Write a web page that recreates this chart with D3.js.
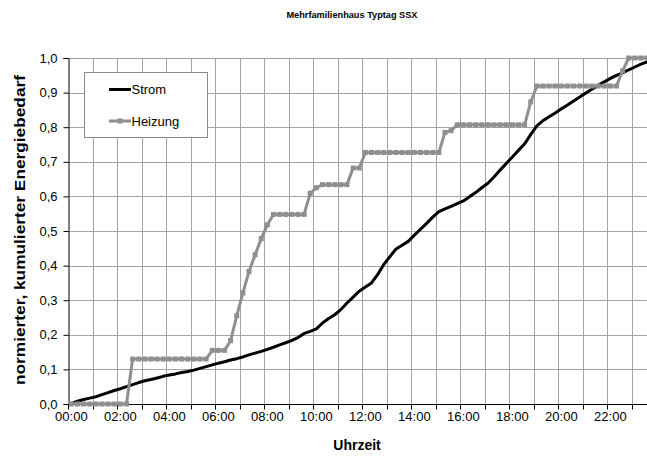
<!DOCTYPE html>
<html>
<head>
<meta charset="utf-8">
<script src="https://cdn.jsdelivr.net/npm/d3@7"></script>
<style>
  html, body { margin: 0; padding: 0; background: #fff; }
  svg { display: block; font-family: "Liberation Sans", Arial, sans-serif; }
</style>
</head>
<body>
<svg id="chart" width="647" height="457"></svg>
<script>
// Quarter-hour categories over one day
const categories = d3.range(96).map(i => {
  const h = Math.floor(i / 4), m = (i % 4) * 15;
  return String(h).padStart(2, "0") + ":" + String(m).padStart(2, "0");
});

// Normalised cumulative electricity demand
const strom = [
  0.002, 0.008, 0.013, 0.017, 0.021, 0.027, 0.033, 0.039,
  0.044, 0.050, 0.056, 0.062, 0.067, 0.071, 0.075, 0.080,
  0.084, 0.087, 0.091, 0.094, 0.098, 0.103, 0.108, 0.113,
  0.118, 0.122, 0.127, 0.131, 0.136, 0.142, 0.147, 0.152,
  0.158, 0.164, 0.171, 0.177, 0.184, 0.192, 0.204, 0.210,
  0.217, 0.234, 0.247, 0.258, 0.273, 0.292, 0.309, 0.326,
  0.338, 0.350, 0.374, 0.403, 0.426, 0.448, 0.459, 0.470,
  0.488, 0.505, 0.522, 0.540, 0.556, 0.564, 0.571, 0.579,
  0.587, 0.599, 0.611, 0.625, 0.638, 0.656, 0.676, 0.695,
  0.714, 0.733, 0.752, 0.779, 0.804, 0.819, 0.830, 0.841,
  0.853, 0.864, 0.876, 0.887, 0.899, 0.910, 0.921, 0.931,
  0.941, 0.950, 0.957, 0.966, 0.974, 0.982, 0.989, 0.995
];

// Normalised cumulative heating demand
const heizung = [
  0, 0, 0, 0, 0, 0, 0, 0, 0, 0,
  0.130, 0.130, 0.130, 0.130, 0.130, 0.130, 0.130, 0.130, 0.130, 0.130, 0.130, 0.130, 0.130,
  0.155, 0.155, 0.155,
  0.183, 0.255, 0.321, 0.383, 0.431, 0.478, 0.518,
  0.548, 0.548, 0.548, 0.548, 0.548, 0.548,
  0.609, 0.625,
  0.634, 0.634, 0.634, 0.634, 0.634,
  0.682, 0.682,
  0.727, 0.727, 0.727, 0.727, 0.727, 0.727, 0.727, 0.727, 0.727, 0.727, 0.727, 0.727, 0.727,
  0.785, 0.790,
  0.807, 0.807, 0.807, 0.807, 0.807, 0.807, 0.807, 0.807, 0.807, 0.807, 0.807, 0.807,
  0.873,
  0.919, 0.919, 0.919, 0.919, 0.919, 0.919, 0.919, 0.919, 0.919, 0.919, 0.919, 0.919, 0.919, 0.919,
  0.963,
  1.0, 1.0, 1.0, 1.0, 1.0
];

const xTickLabels = ["00:00", "02:00", "04:00", "06:00", "08:00", "10:00",
                     "12:00", "14:00", "16:00", "18:00", "20:00", "22:00"];
const yTicks = [0, 0.1, 0.2, 0.3, 0.4, 0.5, 0.6, 0.7, 0.8, 0.9, 1.0];
const seriesNames = ["Strom", "Heizung"];

const svg = d3.select("#chart");
const plotLeft = 68.3, plotRight = 656.3, plotTop = 58, plotBottom = 404;
const gridColor = "#a3a3a3";
const heizColor = "#8f8f8f";

const x = d3.scaleBand().domain(categories).range([plotLeft, plotRight]);
const cx = c => x(c) + x.bandwidth() / 2;
const y = d3.scaleLinear().domain([0, 1]).range([plotBottom, plotTop]);
const fmt = v => d3.format(".1f")(v).replace(".", ",");

// Title
svg.append("text")
  .attr("x", 352).attr("y", 18)
  .attr("text-anchor", "middle")
  .attr("font-size", 9.2).attr("font-weight", "bold")
  .text("Mehrfamilienhaus Typtag SSX");

// Gridlines
const hourStarts = d3.range(1, 24).map(h => categories[h * 4]);
svg.append("g").selectAll("line").data(hourStarts).join("line")
  .attr("x1", d => Math.round(x(d)) + 0.5).attr("x2", d => Math.round(x(d)) + 0.5)
  .attr("y1", plotTop).attr("y2", plotBottom)
  .attr("stroke", gridColor).attr("stroke-width", 1);
svg.append("g").selectAll("line").data(yTicks.filter(v => v > 0)).join("line")
  .attr("x1", plotLeft).attr("x2", 647)
  .attr("y1", d => Math.round(y(d)) + 0.5).attr("y2", d => Math.round(y(d)) + 0.5)
  .attr("stroke", gridColor).attr("stroke-width", 1);

// Y axis
const yAxis = d3.axisLeft(y).tickValues(yTicks).tickFormat(fmt).tickSize(5).tickPadding(6);
const gy = svg.append("g").attr("transform", `translate(${Math.round(plotLeft) + 0.5},0)`).call(yAxis);
gy.select(".domain").attr("stroke", "#000");
gy.selectAll(".tick line").attr("stroke", "#000");
gy.selectAll(".tick text")
  .attr("font-size", 13).attr("fill", "#000")
  .attr("font-family", "Liberation Sans, Arial, sans-serif");

// X axis: ticks at every hour boundary, labels every two hours
const gx = svg.append("g").attr("transform", `translate(0,${plotBottom + 0.5})`);
gx.append("line").attr("x1", plotLeft).attr("x2", 647).attr("y1", 0).attr("y2", 0).attr("stroke", "#000");
gx.selectAll("line.tk").data(d3.range(0, 24).map(h => categories[h * 4])).join("line")
  .attr("class", "tk")
  .attr("x1", d => Math.round(x(d)) + 0.5).attr("x2", d => Math.round(x(d)) + 0.5)
  .attr("y1", 0).attr("y2", 5).attr("stroke", "#000");
gx.selectAll("text").data(xTickLabels).join("text")
  .attr("x", d => cx(d)).attr("y", 16)
  .attr("text-anchor", "middle")
  .attr("font-size", 13)
  .text(d => d);

// Axis titles
svg.append("text")
  .attr("x", 357).attr("y", 450)
  .attr("text-anchor", "middle")
  .attr("font-size", 14).attr("font-weight", "bold")
  .text("Uhrzeit");
svg.append("text")
  .attr("transform", "translate(25,230) rotate(-90)")
  .attr("text-anchor", "middle")
  .attr("font-size", 14).attr("font-weight", "bold")
  .attr("textLength", 310).attr("lengthAdjust", "spacingAndGlyphs")
  .text("normierter, kumulierter Energiebedarf");

// Series
const line = d3.line().x((d, i) => cx(categories[i])).y(d => y(d));
svg.append("path").datum(strom)
  .attr("d", line).attr("fill", "none")
  .attr("stroke", "#000").attr("stroke-width", 3).attr("stroke-linejoin", "round");
svg.append("path").datum(heizung)
  .attr("d", line).attr("fill", "none")
  .attr("stroke", heizColor).attr("stroke-width", 3).attr("stroke-linejoin", "round");
svg.append("g").selectAll("rect").data(heizung).join("rect")
  .attr("x", (d, i) => cx(categories[i]) - 2.5).attr("y", d => y(d) - 2.5)
  .attr("width", 5).attr("height", 5)
  .attr("fill", heizColor);

// Legend
const lg = svg.append("g");
lg.append("rect").attr("x", 84.5).attr("y", 72.5).attr("width", 123).attr("height", 65)
  .attr("fill", "#fff").attr("stroke", "#8a8a8a").attr("stroke-width", 1);
const legendRows = [
  { name: seriesNames[0], color: "#000", marker: false, yy: 89.5 },
  { name: seriesNames[1], color: heizColor, marker: true, yy: 121 }
];
legendRows.forEach(r => {
  lg.append("line").attr("x1", 109).attr("x2", 131).attr("y1", r.yy).attr("y2", r.yy)
    .attr("stroke", r.color).attr("stroke-width", 3);
  if (r.marker) {
    lg.append("rect").attr("x", 117.5).attr("y", r.yy - 2.5).attr("width", 5).attr("height", 5)
      .attr("fill", r.color);
  }
  lg.append("text").attr("x", 131.5).attr("y", r.yy + 4.5)
    .attr("font-size", 13).text(r.name);
});
</script>
</body>
</html>
